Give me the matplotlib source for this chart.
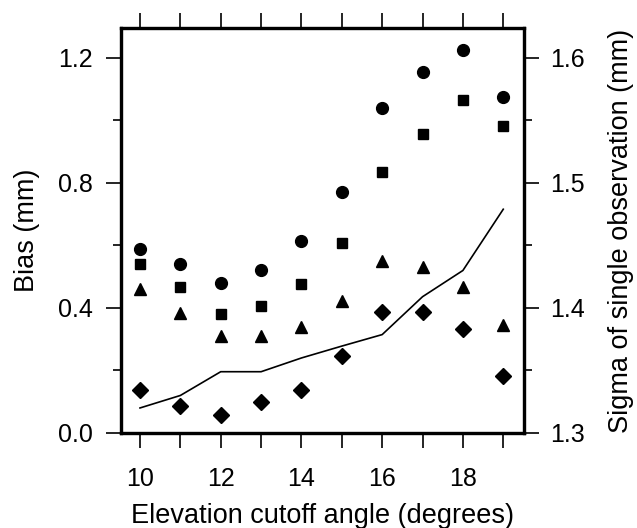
import numpy as np
import matplotlib
matplotlib.use("Agg")
import matplotlib.pyplot as plt
from matplotlib.ticker import MultipleLocator, FormatStrFormatter

plt.rcParams['font.family'] = ['Liberation Sans', 'DejaVu Sans']

angle = [10, 11, 12, 13, 14, 15, 16, 17, 18, 19]
bias_circle = [0.59, 0.54, 0.48, 0.52, 0.615, 0.77, 1.04, 1.155, 1.225, 1.075]
bias_square = [0.54, 0.467, 0.38, 0.406, 0.478, 0.609, 0.836, 0.956, 1.067, 0.983]
bias_triangle = [0.462, 0.383, 0.311, 0.311, 0.339, 0.422, 0.551, 0.532, 0.466, 0.347]
bias_diamond = [0.138, 0.087, 0.056, 0.098, 0.137, 0.246, 0.386, 0.386, 0.334, 0.183]
sigma = [1.320, 1.330, 1.349, 1.349, 1.360, 1.3695, 1.3787, 1.409, 1.430, 1.479]

fig = plt.figure(figsize=(6.37, 5.28), dpi=100)
ax = fig.add_axes([0.19, 0.18, 0.633, 0.767])

ax.plot(angle, bias_circle, 'o', color='black', markersize=8.5)
ax.plot(angle, bias_square, 's', color='black', markersize=7.5)
ax.plot(angle, bias_triangle, '^', color='black', markersize=8.5)
ax.plot(angle, bias_diamond, 'D', color='black', markersize=8.5)

ax.set_xlim(9.53, 19.52)
ax.set_ylim(0, 1.296)
ax.xaxis.set_major_locator(MultipleLocator(2))
ax.xaxis.set_minor_locator(MultipleLocator(1))
ax.yaxis.set_major_locator(MultipleLocator(0.4))
ax.yaxis.set_minor_locator(MultipleLocator(0.2))
ax.yaxis.set_major_formatter(FormatStrFormatter('%.1f'))

ax2 = ax.twinx()
ax2.plot(angle, sigma, '-', color='black', linewidth=1.2)
ax2.set_ylim(1.3, 1.3 + 1.296 / 4)
ax2.yaxis.set_major_locator(MultipleLocator(0.1))
ax2.yaxis.set_minor_locator(MultipleLocator(0.05))
ax2.yaxis.set_major_formatter(FormatStrFormatter('%.1f'))

for a in (ax, ax2):
    for s in a.spines.values():
        s.set_linewidth(2.3)

ax.tick_params(axis='x', which='both', direction='out', length=10.5, width=1.2,
               top=True, labelsize=18, pad=14)
ax.tick_params(axis='y', which='major', direction='out', length=10.5, width=1.2,
               labelsize=18, pad=10)
ax.tick_params(axis='y', which='minor', direction='out', length=6, width=1.2)
ax2.tick_params(axis='y', which='major', direction='out', length=10.5, width=1.2,
                labelsize=18, pad=8)
ax2.tick_params(axis='y', which='minor', direction='out', length=6, width=1.2)

ax.set_xlabel('Elevation cutoff angle (degrees)', fontsize=19.5, labelpad=9)
ax.set_ylabel('Bias (mm)', fontsize=19.5, labelpad=13)
ax2.set_ylabel('Sigma of single observation (mm)', fontsize=19.5, labelpad=17)

fig.savefig('out.png', dpi=100)
